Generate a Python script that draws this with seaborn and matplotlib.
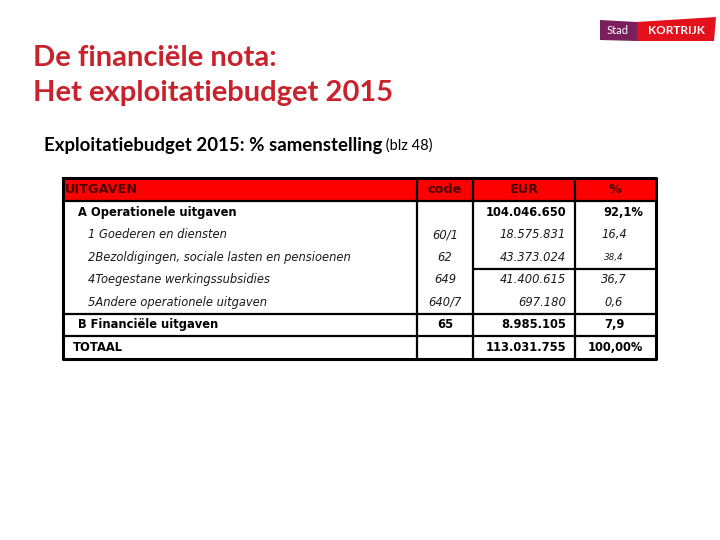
import matplotlib
matplotlib.use("Agg")
import matplotlib.pyplot as plt
import seaborn as sns
from matplotlib.patches import Rectangle, Polygon

sns.set_style("white")
plt.rcParams["font.family"] = ["DejaVu Sans"]
plt.rcParams["text.color"] = "black"

# table content
labels = ["A Operationele uitgaven", "1 Goederen en diensten",
          "2Bezoldigingen, sociale lasten en pensioenen",
          "4Toegestane werkingssubsidies", "5Andere operationele uitgaven",
          "B Financiële uitgaven", "TOTAAL"]
kinds = ["group", "item", "item", "item", "item", "group", "total"]
codes = ["", "60/1", "62", "649", "640/7", "65", ""]
eur = ["104.046.650", "18.575.831", "43.373.024", "41.400.615", "697.180",
       "8.985.105", "113.031.755"]
pct = ["92,1%", "16,4", "38,4", "36,7", "0,6", "7,9", "100,00%"]
header = ["UITGAVEN", "code", "EUR", "%"]

fig = plt.figure(figsize=(7.2, 5.4), dpi=100)
ax = fig.add_axes([0, 0, 1, 1])
ax.set_xlim(0, 720)
ax.set_ylim(540, 0)
ax.axis("off")

red = "#C8232C"
ax.text(33, 58, "De financiële nota:", color=red, fontsize=21, fontweight="bold",
        family="Lato", va="center")
ax.text(33, 93, "Het exploitatiebudget 2015", color=red, fontsize=21,
        fontweight="bold", family="Lato", va="center")
t = ax.text(44, 146, "Exploitatiebudget 2015: % samenstelling", fontsize=13.4,
            fontweight="bold", family="Lato", va="center", color="black")
ax.annotate(" (blz 48)", xycoords=t, xy=(1, 0.5), va="center", fontsize=10.5,
            family="Lato", color="black")

# logo
ax.add_patch(Polygon([[600, 20], [637, 22], [637, 41], [600, 40]],
                     color="#7B1F5C", lw=0))
ax.add_patch(Polygon([[637, 22], [716, 17], [714, 41], [637, 41]],
                     color="#E2111B", lw=0))
ax.text(618, 31, "Stad", color="white", fontsize=8, ha="center", va="center",
        family="Lato")
ax.text(676, 31, "KORTRIJK", color="white", fontsize=8.5, fontweight="bold",
        ha="center", va="center", family="Lato")

# table geometry
x0, x1, x2, x3, x4 = 63, 417, 473, 575, 656
top, head_bot, rh = 178, 201, 22.5
n = len(labels)
bottom = head_bot + rh * n
tf = "DejaVu Sans"

ax.add_patch(Rectangle((x0, top), x4 - x0, head_bot - top, color="#FF0000", lw=0))
hc = "#4A0000"
ax.text(x0 + 2, (top + head_bot) / 2, header[0], color=hc, fontsize=9.3,
        va="center", family=tf, fontweight="bold")
for xa, xb, h in zip([x1, x2, x3], [x2, x3, x4], header[1:]):
    ax.text((xa + xb) / 2, (top + head_bot) / 2, h, color=hc, fontsize=9.3,
            ha="center", va="center", family=tf, fontweight="bold")

lw = 1.6
ax.plot([x0, x4, x4, x0, x0], [top, top, bottom, bottom, top], color="black", lw=2.2)
ax.plot([x0, x4], [head_bot, head_bot], color="black", lw=lw)
for x in [x1, x2, x3]:
    ax.plot([x, x], [top, bottom], color="black", lw=lw)
ax.plot([x2, x4], [head_bot + rh * 3, head_bot + rh * 3], color="black", lw=lw)
for i in [5, 6]:
    ax.plot([x0, x4], [head_bot + rh * i, head_bot + rh * i], color="black", lw=lw)

for i in range(n):
    y = head_bot + rh * (i + 0.5)
    k = kinds[i]
    if k == "item":
        st = dict(fontsize=8.3, style="italic", color="#1a1a1a", family=tf)
        lx = 88
    else:
        st = dict(fontsize=8.3, fontweight="bold", color="black", family=tf)
        lx = 78 if k == "group" else 73
    ax.text(lx, y, labels[i], va="center", **st)
    ax.text((x1 + x2) / 2, y, codes[i], ha="center", va="center", **st)
    ax.text(566, y, eur[i], ha="right", va="center", **st)
    pst = dict(st)
    if i == 2:
        pst["fontsize"] = 6.3
    px = {0: 623, 6: 615}.get(i, 614)
    ax.text(px, y, pct[i], ha="center", va="center", **pst)

fig.savefig("out.png", dpi=100)
